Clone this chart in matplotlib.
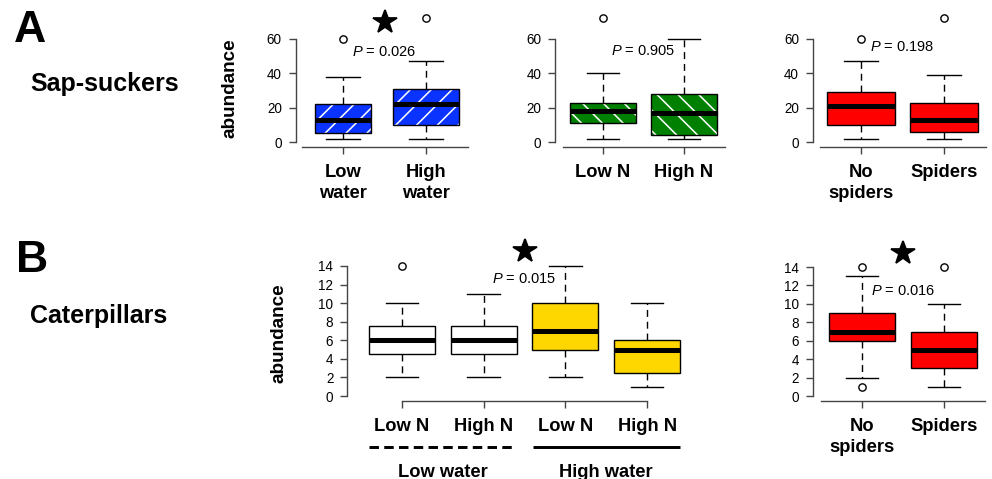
import matplotlib
matplotlib.use("Agg")
import matplotlib.pyplot as plt
from matplotlib.patches import PathPatch

plt.rcParams['font.family'] = ['Liberation Sans', 'DejaVu Sans']
plt.rcParams['mathtext.fontset'] = 'custom'
plt.rcParams['mathtext.it'] = 'Liberation Sans:italic'
plt.rcParams['mathtext.rm'] = 'Liberation Sans'
plt.rcParams['hatch.linewidth'] = 0.9

# ---------------- data ----------------
# Panel A1: sap-suckers vs water
a1_labels = ['Low\nwater', 'High\nwater']
a1_whislo = [2, 2]
a1_q1 = [5, 10]
a1_med = [13, 22]
a1_q3 = [22, 31]
a1_whishi = [38, 47]
a1_fliers = [[60], [72]]
a1_widths = [0.67, 0.8]
a1_p = '0.026'
a1_sig = True

# Panel A2: sap-suckers vs N
a2_labels = ['Low N', 'High N']
a2_whislo = [2, 2]
a2_q1 = [11, 4]
a2_med = [18, 17]
a2_q3 = [23, 28]
a2_whishi = [40, 60]
a2_fliers = [[72], []]
a2_widths = [0.81, 0.81]
a2_p = '0.905'
a2_sig = False

# Panel A3: sap-suckers vs spiders
a3_labels = ['No\nspiders', 'Spiders']
a3_whislo = [2, 2]
a3_q1 = [10, 6]
a3_med = [21, 13]
a3_q3 = [29, 23]
a3_whishi = [47, 39]
a3_fliers = [[60], [72]]
a3_widths = [0.82, 0.81]
a3_p = '0.198'
a3_sig = False

# Panel B1: caterpillars, water x N
b1_labels = ['Low N', 'High N', 'Low N', 'High N']
b1_whislo = [2, 2, 2, 1]
b1_q1 = [4.5, 4.5, 5, 2.5]
b1_med = [6, 6, 7, 5]
b1_q3 = [7.5, 7.5, 10, 6]
b1_whishi = [10, 11, 14, 10]
b1_fliers = [[14], [], [], []]
b1_widths = [0.81, 0.81, 0.81, 0.81]
b1_groups = ['Low water', 'High water']
b1_group_members = [(1, 2), (3, 4)]
b1_p = '0.015'
b1_sig = True

# Panel B2: caterpillars vs spiders
b2_labels = ['No\nspiders', 'Spiders']
b2_whislo = [2, 1]
b2_q1 = [6, 3]
b2_med = [7, 5]
b2_q3 = [9, 7]
b2_whishi = [13, 10]
b2_fliers = [[14, 1], [14]]
b2_widths = [0.8, 0.81]
b2_p = '0.016'
b2_sig = True

BLUE = '#0a33ff'
GREEN = '#008000'
RED = '#ff0000'
GOLD = '#ffd700'

# ---------------- figure ----------------
W, H, DPI = 992, 479, 125
fig = plt.figure(figsize=(W / DPI, H / DPI), dpi=DPI)

TICK_FS = 7.8
LAB_FS = 10.6


def make_axes(pos1_px, dx, y0_px, dy, xlim, ylim):
    left_px = pos1_px + (xlim[0] - 1) * dx
    right_px = pos1_px + (xlim[1] - 1) * dx
    top_px = y0_px - ylim[1] * dy
    bot_px = y0_px - ylim[0] * dy
    ax = fig.add_axes([left_px / W, 1 - bot_px / H,
                       (right_px - left_px) / W, (bot_px - top_px) / H])
    ax.set_xlim(*xlim)
    ax.set_ylim(*ylim)
    ax.patch.set_alpha(0)
    return ax


def draw_panel(ax, labels, whislo, q1, med, q3, whishi, fliers, widths,
               colors, hatches, yticks, ybound, xbound, p_text, p_xy, star_xy):
    n = len(labels)
    pos = list(range(1, n + 1))
    stats = []
    for i in range(n):
        stats.append(dict(whislo=whislo[i], q1=q1[i], med=med[i], q3=q3[i],
                          whishi=whishi[i], fliers=fliers[i]))
    art = ax.bxp(stats, positions=pos, widths=widths, capwidths=0.4,
                 patch_artist=True, showfliers=True,
                 boxprops=dict(linewidth=0.8, edgecolor='black'),
                 medianprops=dict(color='black', linewidth=2.9, solid_capstyle='butt'),
                 whiskerprops=dict(color='black', linewidth=0.8, linestyle=(0, (5, 3.5))),
                 capprops=dict(color='black', linewidth=0.8),
                 flierprops=dict(marker='o', markersize=4.2, markerfacecolor='none',
                                 markeredgecolor='black', markeredgewidth=0.8))
    for i, b in enumerate(art['boxes']):
        b.set_facecolor(colors[i])
        if hatches[i]:
            b.set_edgecolor('white')
            b.set_hatch(hatches[i])
            b.set_linewidth(0)
            ax.add_patch(PathPatch(b.get_path(), facecolor='none',
                                   edgecolor='black', linewidth=0.8, zorder=2.5))
    for key in art:
        for a in art[key]:
            a.set_clip_on(False)
    # axes styling (R-like)
    for s in ['top', 'right']:
        ax.spines[s].set_visible(False)
    ax.spines['left'].set_bounds(*ybound)
    ax.spines['bottom'].set_bounds(*xbound)
    for s in ['left', 'bottom']:
        ax.spines[s].set_linewidth(0.8)
        ax.spines[s].set_color('#444444')
    ax.set_yticks(yticks)
    ax.set_yticklabels([str(t) for t in yticks], fontsize=TICK_FS)
    ax.set_xticks(pos)
    ax.set_xticklabels(labels, fontsize=LAB_FS, fontweight='bold', linespacing=1.3)
    ax.tick_params(axis='both', direction='out', length=4, width=0.8, color='#444444')
    ax.tick_params(axis='y', pad=4)
    ax.tick_params(axis='x', pad=5.8)
    ax.text(p_xy[0], p_xy[1], '$P$ = ' + p_text, fontsize=8.4, ha='center',
            va='center', clip_on=False)
    if star_xy is not None:
        ax.plot([star_xy[0]], [star_xy[1]], marker='*', markersize=14,
                color='black', clip_on=False, linestyle='none')


# Row A
A_y0, A_dy = 142, 1.717
A_ylim = (-2.9, 80)
ax1 = make_axes(343, 83, A_y0, A_dy, (0.43, 2.6), A_ylim)
draw_panel(ax1, a1_labels, a1_whislo, a1_q1, a1_med, a1_q3, a1_whishi, a1_fliers,
           a1_widths, [BLUE, BLUE], ['//', '//'], [0, 20, 40, 60], (0, 60), (0.5, 2.5),
           a1_p, (1.5, 52.4), (1.5, 69.9) if a1_sig else None)

ax2 = make_axes(603, 81, A_y0, A_dy, (0.41, 2.6), A_ylim)
draw_panel(ax2, a2_labels, a2_whislo, a2_q1, a2_med, a2_q3, a2_whishi, a2_fliers,
           a2_widths, [GREEN, GREEN], ['\\\\', '\\\\'], [0, 20, 40, 60], (0, 60), (0.5, 2.5),
           a2_p, (1.5, 53), None)

ax3 = make_axes(861, 83, A_y0, A_dy, (0.42, 2.6), A_ylim)
draw_panel(ax3, a3_labels, a3_whislo, a3_q1, a3_med, a3_q3, a3_whishi, a3_fliers,
           a3_widths, [RED, RED], [None, None], [0, 20, 40, 60], (0, 60), (0.5, 2.5),
           a3_p, (1.5, 55.3), None)

# Row B
B_ylim = (-0.54, 17)
ax4 = make_axes(402, 81.7, 396, 9.29, (0.33, 4.6), B_ylim)
draw_panel(ax4, b1_labels, b1_whislo, b1_q1, b1_med, b1_q3, b1_whishi, b1_fliers,
           b1_widths, ['white', 'white', GOLD, GOLD], [None] * 4,
           list(range(0, 15, 2)), (0, 14), (1, 4),
           b1_p, (2.5, 12.6), (2.5, 15.6) if b1_sig else None)
group_styles = [(0, (3.2, 1.8)), '-']
for g, (lo, hi), ls in zip(b1_groups, b1_group_members, group_styles):
    ax4.plot([lo - 0.4, hi + 0.4], [-5.5, -5.5], color='black', linewidth=1.7,
             linestyle=ls, clip_on=False, solid_capstyle='butt', dash_capstyle='butt')
    ax4.text((lo + hi) / 2, -8.2, g, fontsize=LAB_FS, fontweight='bold',
             ha='center', va='center', clip_on=False)

ax5 = make_axes(862, 82, 396, 9.21, (0.40, 2.6), B_ylim)
draw_panel(ax5, b2_labels, b2_whislo, b2_q1, b2_med, b2_q3, b2_whishi, b2_fliers,
           b2_widths, [RED, RED], [None, None], list(range(0, 15, 2)), (0, 14), (0.5, 2.5),
           b2_p, (1.5, 11.4), (1.5, 15.5) if b2_sig else None)

# y-axis titles
fig.text(230 / W, 1 - 88 / H, 'abundance', rotation=90, fontsize=10.9,
         fontweight='bold', ha='center', va='center')
fig.text(279 / W, 1 - 333 / H, 'abundance', rotation=90, fontsize=10.9,
         fontweight='bold', ha='center', va='center')

# panel letters and row titles
fig.text(14 / W, 1 - 42 / H, 'A', fontsize=25.7, fontweight='bold', ha='left', va='baseline')
fig.text(30 / W, 1 - 91 / H, 'Sap-suckers', fontsize=14.4, fontweight='bold',
         ha='left', va='baseline')
fig.text(16 / W, 1 - 272 / H, 'B', fontsize=25.7, fontweight='bold', ha='left', va='baseline')
fig.text(30 / W, 1 - 323 / H, 'Caterpillars', fontsize=14.4, fontweight='bold',
         ha='left', va='baseline')

fig.savefig('out.png', dpi=DPI)
